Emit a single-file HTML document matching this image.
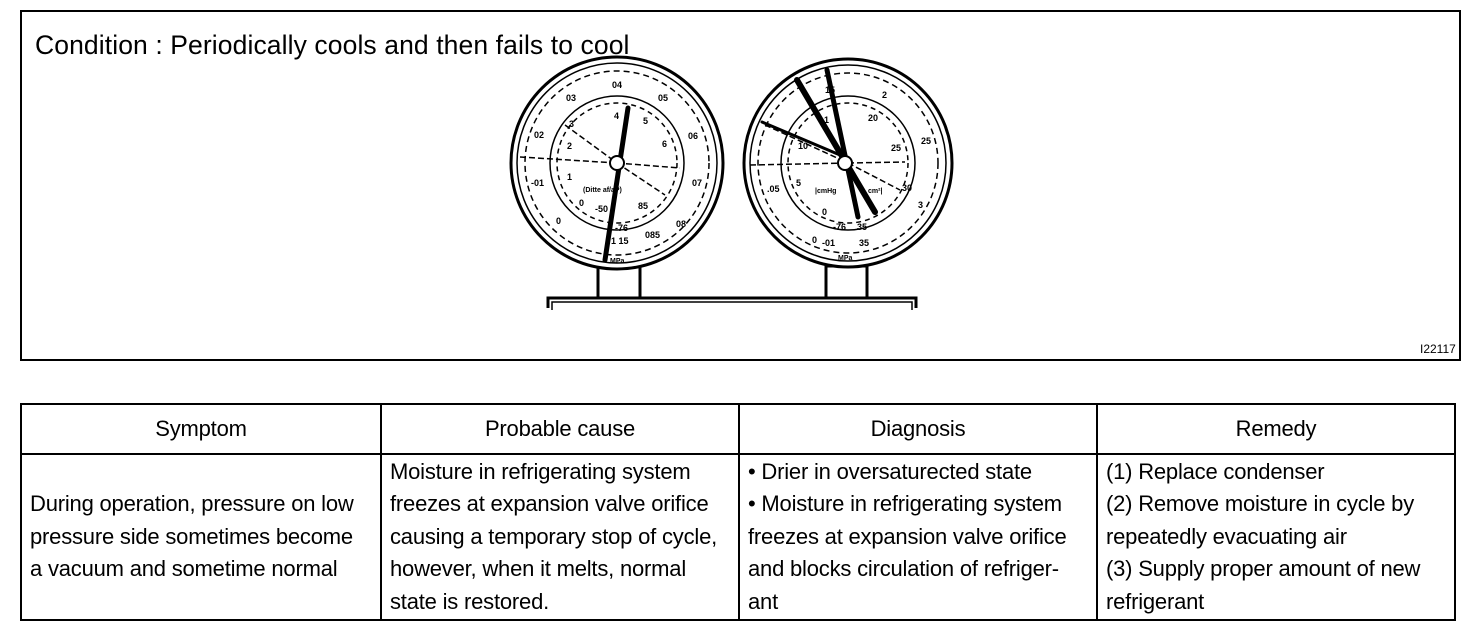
<!DOCTYPE html>
<html><head><style>
body{margin:0;background:#fff;width:1472px;height:644px;position:relative;font-family:"Liberation Sans",sans-serif;color:#000;overflow:hidden}
.box{position:absolute;left:20px;top:10px;width:1437px;height:347px;border:2px solid #000}
.title{position:absolute;left:35px;top:30px;font-size:26.5px;letter-spacing:0.1px}
.code{position:absolute;left:1420px;top:342px;font-size:12px}
table{position:absolute;left:20px;top:403px;width:1436px;border-collapse:collapse;font-size:22px;letter-spacing:-0.2px;table-layout:fixed}
td,th{border:2px solid #000;vertical-align:middle;white-space:nowrap;overflow:hidden}
th{height:46px;font-weight:normal;text-align:center}
td{height:164px;padding:0 8px;line-height:32.5px}
</style></head><body>
<div class="box"></div>
<div class="title">Condition : Periodically cools and then fails to cool</div>
<div class="code">I22117</div>
<svg width="1472" height="644" style="position:absolute;left:0;top:0" font-family="Liberation Sans" font-size="9" font-weight="bold">
<g fill="none" stroke="#000" stroke-width="3">
<rect x="598" y="266" width="42" height="32"/>
<rect x="826" y="266" width="41" height="32"/>
<path d="M548 308 V298 H916 V308"/>
<path d="M552 310 V302 H912 V310" stroke-width="1.5"/>
</g>
<g fill="#fff" stroke="#000">
<circle cx="617" cy="163" r="106" stroke-width="3"/>
<circle cx="617" cy="163" r="100" stroke-width="1.5"/>
<circle cx="617" cy="163" r="92" stroke-width="1.5" stroke-dasharray="6 4"/>
<circle cx="617" cy="163" r="67" stroke-width="1.5"/>
<circle cx="617" cy="163" r="60" stroke-width="1.5" stroke-dasharray="5 4"/>
<circle cx="848" cy="163" r="104" stroke-width="3"/>
<circle cx="848" cy="163" r="98" stroke-width="1.5"/>
<circle cx="848" cy="163" r="90" stroke-width="1.5" stroke-dasharray="6 4"/>
<circle cx="848" cy="163" r="67" stroke-width="1.5"/>
<circle cx="848" cy="163" r="60" stroke-width="1.5" stroke-dasharray="5 4"/>
</g>
<g stroke="#000" stroke-width="1.5" stroke-dasharray="6 3">
<line x1="520" y1="157" x2="617" y2="163"/><line x1="565" y1="125" x2="617" y2="163"/>
<line x1="617" y1="163" x2="680" y2="168"/><line x1="617" y1="163" x2="665" y2="195"/>
<line x1="750" y1="165" x2="848" y2="163"/><line x1="765" y1="125" x2="848" y2="163"/>
<line x1="848" y1="163" x2="905" y2="162"/><line x1="848" y1="163" x2="900" y2="190"/>
</g>
<g stroke="#000" stroke-linecap="round">
<line x1="628" y1="108" x2="605" y2="260" stroke-width="5"/>
<line x1="827" y1="70" x2="858" y2="217" stroke-width="5"/>
<line x1="797" y1="80" x2="875" y2="212" stroke-width="6"/>
<line x1="762" y1="122" x2="840" y2="155" stroke-width="3"/>
</g>
<circle cx="617" cy="163" r="7" fill="#fff" stroke="#000" stroke-width="2"/>
<circle cx="845" cy="163" r="7" fill="#fff" stroke="#000" stroke-width="2"/>
<g fill="#000">
<text x="612" y="88">04</text><text x="566" y="101">03</text><text x="658" y="101">05</text>
<text x="534" y="138">02</text><text x="688" y="139">06</text><text x="531" y="186">-01</text>
<text x="692" y="186">07</text><text x="556" y="224">0</text><text x="676" y="227">08</text>
<text x="614" y="119">4</text><text x="569" y="127">3</text><text x="643" y="124">5</text>
<text x="567" y="149">2</text><text x="662" y="147">6</text><text x="567" y="180">1</text>
<text x="579" y="206">0</text><text x="595" y="212">-50</text><text x="638" y="209">85</text>
<text x="615" y="231">-76</text><text x="645" y="238">085</text><text x="611" y="244">1 15</text>
<text x="610" y="263" font-size="7">MPa</text><text x="583" y="192" font-size="7">(Ditte  af/aP)</text>
<text x="825" y="93">15</text><text x="882" y="98">2</text><text x="868" y="121">20</text>
<text x="824" y="123">1</text><text x="798" y="149">10</text><text x="891" y="151">25</text>
<text x="921" y="144">25</text><text x="767" y="192">.05</text><text x="796" y="186">5</text>
<text x="902" y="191">30</text><text x="918" y="208">3</text><text x="822" y="215">0</text>
<text x="833" y="230">-76</text><text x="857" y="230">35</text><text x="812" y="243">0</text>
<text x="822" y="246">-01</text><text x="859" y="246">35</text><text x="838" y="260" font-size="7">MPa</text>
<text x="815" y="193" font-size="7">|cmHg</text><text x="868" y="193" font-size="7">cm²|</text>
</g>
</svg>
<table>
<colgroup><col style="width:360px"><col style="width:358px"><col style="width:358px"><col></colgroup>
<tr><th>Symptom</th><th>Probable cause</th><th>Diagnosis</th><th>Remedy</th></tr>
<tr><td>During operation, pressure on low<br>pressure side sometimes become<br>a vacuum and sometime normal</td>
<td>Moisture in refrigerating system<br>freezes at expansion valve orifice<br>causing a temporary stop of cycle,<br>however, when it melts, normal<br>state is restored.</td>
<td>• Drier in oversaturected state<br>• Moisture in refrigerating system<br>freezes at expansion valve orifice<br>and blocks circulation of refriger-<br>ant</td>
<td>(1) Replace condenser<br>(2) Remove moisture in cycle by<br>repeatedly evacuating air<br>(3) Supply proper amount of new<br>refrigerant</td></tr>
</table>
</body></html>
